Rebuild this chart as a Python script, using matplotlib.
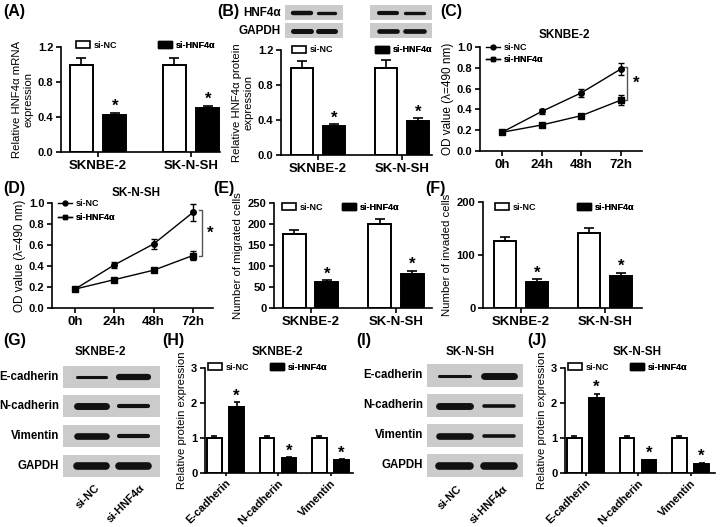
import numpy as np
import matplotlib
matplotlib.use('Agg')
import matplotlib.pyplot as plt
from matplotlib.patches import Patch
from matplotlib.lines import Line2D

plt.rcParams['font.family'] = ['Liberation Sans', 'DejaVu Sans']
plt.rcParams['axes.linewidth'] = 1.2

# Data
groups = ['SKNBE-2', 'SK-N-SH']
mrna_nc = [1.00, 1.00]
mrna_nc_err = [0.07, 0.08]
mrna_kd = [0.42, 0.50]
mrna_kd_err = [0.03, 0.03]

prot_nc = [1.00, 1.00]
prot_nc_err = [0.08, 0.09]
prot_kd = [0.33, 0.39]
prot_kd_err = [0.02, 0.03]

times = ['0h', '24h', '48h', '72h']
c_nc = [0.18, 0.38, 0.56, 0.79]
c_nc_err = [0.01, 0.02, 0.04, 0.06]
c_kd = [0.18, 0.25, 0.34, 0.49]
c_kd_err = [0.01, 0.015, 0.02, 0.05]
d_nc = [0.18, 0.41, 0.61, 0.91]
d_nc_err = [0.01, 0.03, 0.05, 0.08]
d_kd = [0.18, 0.27, 0.36, 0.50]
d_kd_err = [0.01, 0.02, 0.02, 0.04]

mig_nc = [176, 199]
mig_nc_err = [10, 12]
mig_kd = [61, 82]
mig_kd_err = [5, 6]
inv_nc = [126, 141]
inv_nc_err = [8, 10]
inv_kd = [49, 60]
inv_kd_err = [5, 6]

emt = ['E-cadherin', 'N-cadherin', 'Vimentin']
h_nc = [1.0, 1.0, 1.0]
h_nc_err = [0.05, 0.07, 0.07]
h_kd = [1.90, 0.42, 0.36]
h_kd_err = [0.12, 0.03, 0.03]
j_nc = [1.0, 1.0, 1.0]
j_nc_err = [0.06, 0.07, 0.06]
j_kd = [2.15, 0.36, 0.27]
j_kd_err = [0.12, 0.02, 0.01]

lanes = ['si-NC', 'si-HNF4α']
# band thickness (points) per row, per lane
b_rows = ['HNF4α', 'GAPDH']
b_bands_1 = [[3.2, 2.4], [3.6, 3.6]]
b_bands_2 = [[3.0, 2.4], [3.4, 3.4]]
blot_rows = ['E-cadherin', 'N-cadherin', 'Vimentin', 'GAPDH']
g_bands = [[2.2, 4.5], [5.0, 3.0], [4.8, 3.0], [5.5, 5.5]]
i_bands = [[2.2, 5.0], [5.0, 2.6], [4.8, 2.6], [5.5, 5.5]]

W, H = 720, 527
fig = plt.figure(figsize=(W / 100, H / 100), dpi=100)

TICK = 8
XTICK = 9.5
YLAB = 8.2
LEG = 6.5
TITLE = 8.5


def px_axes(l, t, r, b):
    return fig.add_axes([l / W, 1 - b / H, (r - l) / W, (b - t) / H])


def style(ax):
    for s in ['top', 'right']:
        ax.spines[s].set_visible(False)
    ax.tick_params(direction='out', length=3.5, width=1.2, pad=2)
    for lab in ax.get_yticklabels():
        lab.set_fontweight('bold')
        lab.set_fontsize(TICK)


def legend_at(ax, handle, label, x, y):
    leg = ax.legend([handle], [label], loc='center left', frameon=False,
                    bbox_to_anchor=(x / W, 1 - y / H), bbox_transform=fig.transFigure,
                    borderpad=0, borderaxespad=0, handletextpad=0.5,
                    handlelength=1.5, handleheight=0.9,
                    prop={'weight': 'bold', 'size': LEG})
    ax.add_artist(leg)


def bar_panel(box, c0, step, off, w, cats, nc, nce, kd, kde, ylim, yticks,
              ylabel, legx, legy, rot=False, cap=3.5, lpad=3):
    l, t, r, b = box
    ax = px_axes(l, t, r, b)
    x = np.arange(len(cats))
    ekw = dict(capsize=cap, elinewidth=1.2, capthick=1.2, ecolor='black')
    ax.bar(x - off, nc, w, yerr=[np.zeros(len(nc)), nce], color='white',
           edgecolor='black', linewidth=1.4, error_kw=ekw, zorder=2)
    ax.bar(x + off, kd, w, yerr=[np.zeros(len(kd)), kde], color='black',
           edgecolor='black', linewidth=1.4, error_kw=ekw, zorder=2)
    span = ylim[1] - ylim[0]
    for xi, v, e in zip(x, kd, kde):
        ax.text(xi + off, v + e - 0.01 * span, '*', ha='center', va='bottom',
                fontsize=12, fontweight='bold')
    ax.set_xlim((l - c0) / step, (r - c0) / step)
    ax.set_ylim(*ylim)
    ax.set_yticks(yticks)
    ax.set_xticks(x)
    if rot:
        ax.set_xticklabels(cats, rotation=45, ha='right', rotation_mode='anchor',
                           fontsize=8, fontweight='bold')
    else:
        ax.set_xticklabels(cats, fontsize=XTICK, fontweight='bold')
        ax.tick_params(axis='x', length=0)
    style(ax)
    if rot:
        ax.tick_params(axis='x', length=2.5, pad=1)
    ax.set_ylabel(ylabel, fontsize=YLAB, labelpad=lpad, linespacing=1.2)
    legend_at(ax, Patch(facecolor='white', edgecolor='black', linewidth=1.2),
              'si-NC', legx[0], legy)
    legend_at(ax, Patch(facecolor='black', edgecolor='black'),
              'si-HNF4α', legx[1], legy)
    return ax


def line_panel(box, c0, step, nc, nce, kd, kde, title, title_y, legx, legy,
               brx, bry, star):
    l, t, r, b = box
    ax = px_axes(l, t, r, b)
    x = np.arange(len(times))
    ax.errorbar(x, nc, yerr=nce, color='black', marker='o', ms=4, lw=1,
                capsize=2.5, elinewidth=1, clip_on=False, zorder=3)
    ax.errorbar(x, kd, yerr=kde, color='black', marker='s', ms=4, lw=1,
                capsize=2.5, elinewidth=1, clip_on=False, zorder=3)
    ax.set_xlim((l - c0) / step, (r - c0) / step)
    ax.set_ylim(0, 1.0)
    ax.set_yticks(np.arange(0, 1.01, 0.2))
    ax.set_yticklabels(['0.0', '0.2', '0.4', '0.6', '0.8', '1.0'])
    ax.set_xticks(x)
    ax.set_xticklabels(times, fontsize=XTICK, fontweight='bold')
    style(ax)
    ax.set_ylabel('OD value (λ=490 nm)', fontsize=YLAB + 0.3, labelpad=2)
    fig.text((l + r) / 2 / W + 0.005, 1 - title_y / H, title, ha='center', va='center',
             fontsize=TITLE, fontweight='bold')
    legend_at(ax, Line2D([], [], color='black', marker='o', ms=3.5, lw=1), 'si-NC', legx, legy[0])
    legend_at(ax, Line2D([], [], color='black', marker='s', ms=3.5, lw=1), 'si-HNF4α', legx, legy[1])
    bx = brx
    ax.plot([bx - 0.08, bx, bx, bx - 0.08], [bry[0], bry[0], bry[1], bry[1]],
            color='#555555', lw=1, clip_on=False)
    ax.text(star[0], star[1], '*', ha='center', va='center', fontsize=12,
            fontweight='bold')
    return ax


def blot(l, r, tops, hgt, rows, bands, lane_x=(0.29, 0.72), band_len=0.3, labels=True,
         lab_size=8.3):
    for name, top, th in zip(rows, tops, bands):
        ax = px_axes(l, top, r, top + hgt)
        ax.set_facecolor('#cbcbcb')
        ax.set_xlim(0, 1)
        ax.set_ylim(0, 1)
        ax.set_xticks([])
        ax.set_yticks([])
        for s in ax.spines.values():
            s.set_visible(False)
        for cx, lw in zip(lane_x, th):
            ax.plot([cx - band_len / 2, cx + band_len / 2], [0.5, 0.5], color='#111111',
                    lw=lw, solid_capstyle='round')
        if labels:
            fig.text((l - 4) / W, 1 - (top + hgt / 2) / H, name, ha='right', va='center',
                     fontsize=lab_size, fontweight='bold')


# (A)
bar_panel((61, 47, 220, 152), 98, 93, 0.18, 0.25, groups, mrna_nc, mrna_nc_err,
          mrna_kd, mrna_kd_err, (0, 1.2), [0, 0.4, 0.8, 1.2],
          'Relative HNF4α mRNA\nexpression', (76, 158), 45)

# (B)
bar_panel((281, 50, 432, 155), 318, 84, 0.19, 0.26, groups, prot_nc, prot_nc_err,
          prot_kd, prot_kd_err, (0, 1.2), [0, 0.4, 0.8, 1.2],
          'Relative HNF4α protein\nexpression', (292, 375), 50)
blot(285, 343, [5, 23], 15, b_rows, b_bands_1, lab_size=8.5)
blot(370, 432, [5, 23], 15, b_rows, b_bands_2, labels=False)

# (C)
line_panel((480, 47, 642, 151), 502, 39.7, c_nc, c_nc_err, c_kd, c_kd_err,
           'SKNBE-2', 35, 486, (48, 60), 3.15, (0.81, 0.49), (3.38, 0.65))

# (D)
line_panel((52, 203, 213, 308), 75, 39.3, d_nc, d_nc_err, d_kd, d_kd_err,
           'SK-N-SH', 193, 58, (204, 218), 3.23, (0.93, 0.50), (3.43, 0.71))

# (E)
bar_panel((274, 203, 432, 308), 310.5, 85.5, 0.19, 0.27, groups, mig_nc, mig_nc_err,
          mig_kd, mig_kd_err, (0, 250), [0, 50, 100, 150, 200, 250],
          'Number of migrated cells', (282, 342), 207)

# (F)
bar_panel((483, 202, 642, 308), 521, 84, 0.19, 0.26, groups, inv_nc, inv_nc_err,
          inv_kd, inv_kd_err, (0, 200), [0, 100, 200],
          'Number of invaded cells', (495, 577), 207)

# (G)
blot(63, 160, [366, 395, 425, 455], 22, blot_rows, g_bands, lane_x=(0.29, 0.73), band_len=0.3)
fig.text(100 / W, 1 - 352 / H, 'SKNBE-2', ha='center', va='center', fontsize=TITLE,
         fontweight='bold')
for lx, lab in zip((95, 140), lanes):
    fig.text(lx / W, 1 - 483 / H, lab, ha='right', va='top', rotation=45,
             rotation_mode='anchor', fontsize=8, fontweight='bold')

# (H)
bar_panel((205, 368, 353, 473), 225.5, 52.5, 0.21, 0.28, emt, h_nc, h_nc_err,
          h_kd, h_kd_err, (0, 3), [0, 1, 2, 3],
          'Relative protein expression', (208, 270), 367, rot=True, cap=2.5)
fig.text(277 / W, 1 - 352 / H, 'SKNBE-2', ha='center', va='center', fontsize=TITLE,
         fontweight='bold')

# (I)
blot(427, 523, [364, 394, 424, 454], 23, blot_rows, i_bands, lane_x=(0.29, 0.75), band_len=0.32)
fig.text(470 / W, 1 - 352 / H, 'SK-N-SH', ha='center', va='center', fontsize=TITLE,
         fontweight='bold')
for lx, lab in zip((457, 503), lanes):
    fig.text(lx / W, 1 - 484 / H, lab, ha='right', va='top', rotation=45,
             rotation_mode='anchor', fontsize=8, fontweight='bold')

# (J)
bar_panel((565, 368, 715, 473), 585.5, 52.5, 0.21, 0.28, emt, j_nc, j_nc_err,
          j_kd, j_kd_err, (0, 3), [0, 1, 2, 3],
          'Relative protein expression', (568, 630), 367, rot=True, cap=2.5)
fig.text(637 / W, 1 - 352 / H, 'SK-N-SH', ha='center', va='center', fontsize=TITLE,
         fontweight='bold')

# panel letters
for lab, x, y in [('(A)', 3, 4), ('(B)', 217, 4), ('(C)', 440, 4), ('(D)', 3, 181),
                  ('(E)', 213, 181), ('(F)', 425, 181), ('(G)', 3, 333),
                  ('(H)', 162, 333), ('(I)', 356, 333), ('(J)', 527, 333)]:
    fig.text(x / W, 1 - y / H, lab, ha='left', va='top', fontsize=11.5, fontweight='bold')

fig.savefig('out.png', dpi=100)
